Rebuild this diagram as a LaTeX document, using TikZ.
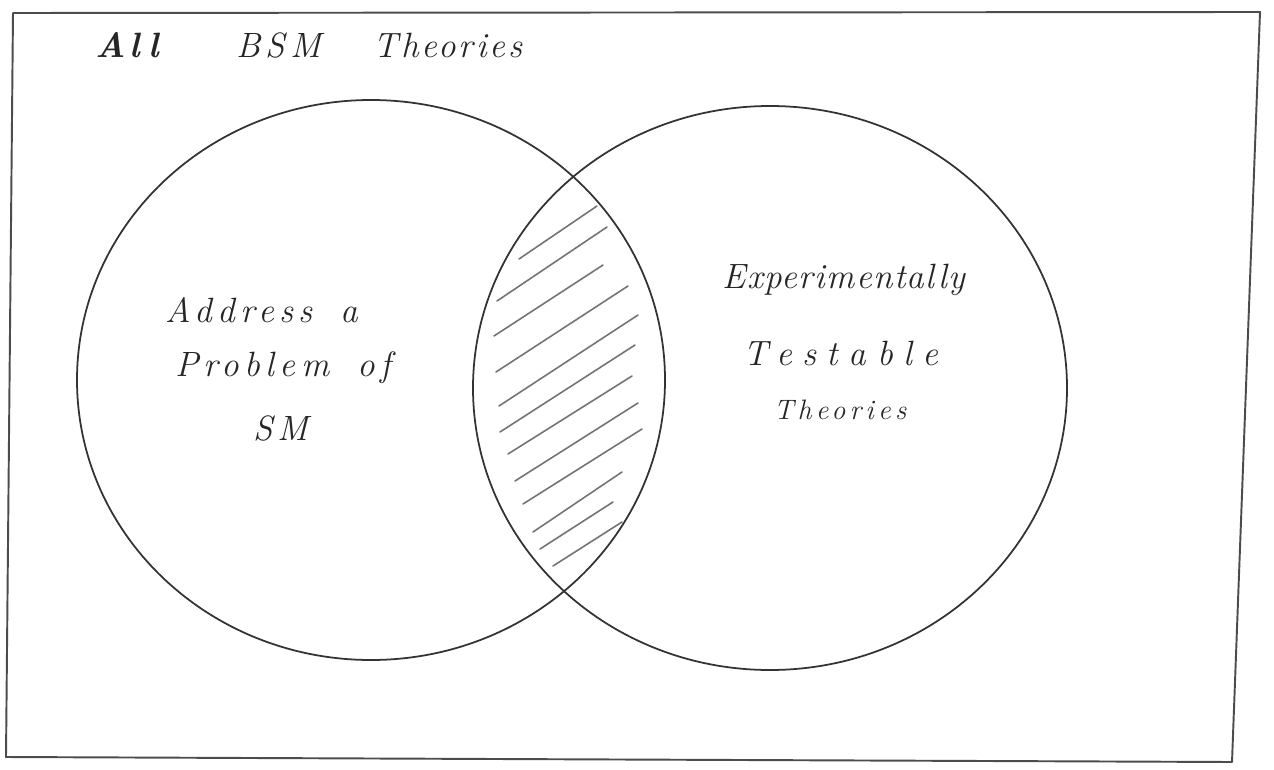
\documentclass[tikz,border=0pt]{standalone}
\usepackage{fontspec}
\newfontfamily\handfont[LetterSpace=15]{Latin Modern Roman}
\begin{document}
\begin{tikzpicture}[x=0.02cm,y=-0.02cm,
  frame/.style={draw=black!70, line width=1.1pt, line join=round},
  venn/.style={draw=black!80, line width=1.0pt},
  hatch/.style={draw=black!55, line width=0.9pt, line cap=round},
  label/.style={text=black!85, font=\handfont\itshape\fontsize{20}{24}\selectfont, inner sep=0pt, anchor=center}]
\useasboundingbox (0,0) rectangle (1274,770);
\fill[white] (0,0) rectangle (1274,770);
% outer frame (all BSM theories)
\draw[frame] (13,13) -- (1260,12) -- (1232,762) -- (6,757) -- cycle;
% circles
\draw[venn] (371,380) ellipse [x radius=294, y radius=280];
\draw[venn] (770,388) ellipse [x radius=297, y radius=282];
% hatching of the overlap
\draw[hatch] (519,259) -- (597,206);
\draw[hatch] (497,301) -- (607,227);
\draw[hatch] (494,336) -- (603,265);
\draw[hatch] (496,372) -- (628,286);
\draw[hatch] (499,406) -- (638,315);
\draw[hatch] (500,432) -- (635,345);
\draw[hatch] (508,454) -- (632,376);
\draw[hatch] (515,481) -- (638,403);
\draw[hatch] (523,504) -- (642,429);
\draw[hatch] (533,532) -- (622,472);
\draw[hatch] (540,549) -- (613,502);
\draw[hatch] (553,566) -- (622,522);
% labels
\node[label] (all) at (309,45) {{\bfseries All}\hspace{2.2em}BSM\hspace{1.5em}{\addfontfeature{LetterSpace=8}Theories}};
\node[label] (addr) at (262,310) {Address\hspace{0.8em}a};
\node[label] (prob) at (283,368) {Problem\hspace{0.8em}of};
\node[label] (sm) at (281,428) {SM};
\node[label] (exp) at (844,280) {\addfontfeature{LetterSpace=4}Experimentally};
\node[label] (test) at (841,353) {\addfontfeature{LetterSpace=30}Testable};
\node[label, font=\handfont\itshape\fontsize{16}{20}\selectfont] (theo) at (840,410) {Theories};
\end{tikzpicture}
\end{document}
